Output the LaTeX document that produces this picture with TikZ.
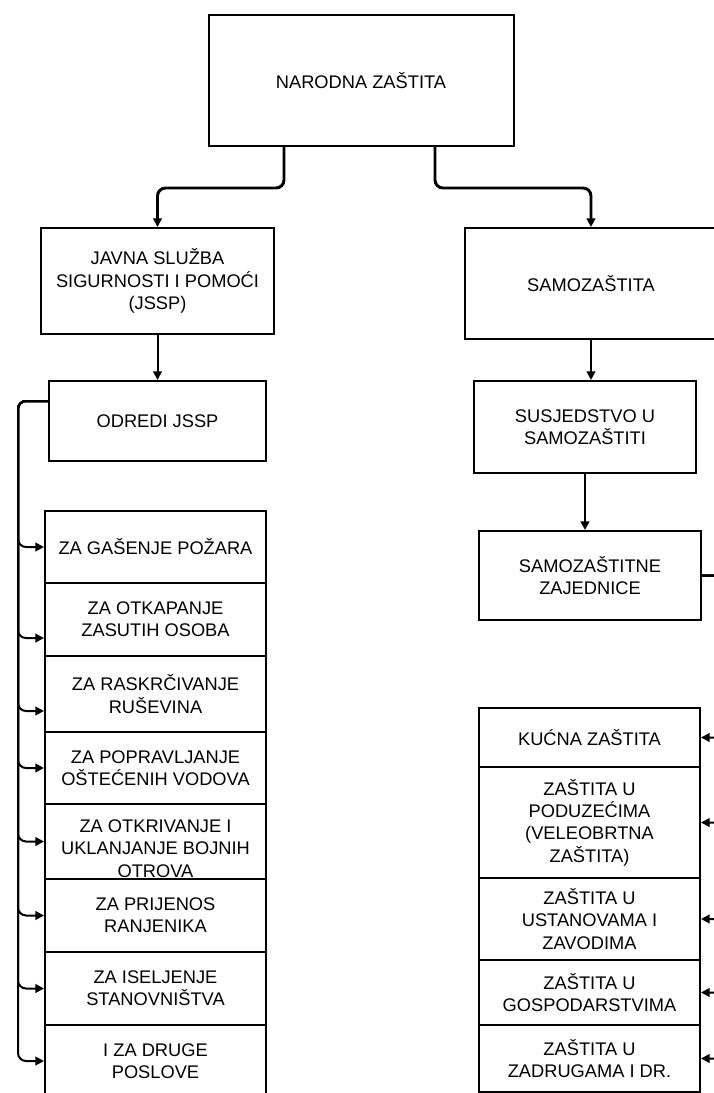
\documentclass[tikz,border=0pt]{standalone}
\usepackage{fontspec}
\setmainfont{Liberation Sans}
\usetikzlibrary{positioning, arrows.meta}

\begin{document}
\begin{tikzpicture}[x=0.75pt,y=-0.75pt,
		font=\fontsize{13.7pt}{16.7pt}\selectfont,
		box/.style={draw=black,line width=1.5pt,align=center,inner sep=0pt},
		item/.style={box,minimum width=165.75pt},
		link/.style={line width=1.5pt,rounded corners=6pt,-{Triangle[length=6.5pt,width=6.5pt]}}]
	\useasboundingbox (0,0) rectangle (714,1093);
	\clip (0,0) rectangle (714,1093);

		 	\node[box,minimum width=228.75pt,minimum height=98.25pt] (nz) at (361,80.5)
		    {NARODNA ZAŠTITA};
 			\node[box,minimum width=174.75pt,minimum height=79.5pt] (jssp) at (157.5,281)
    		{JAVNA SLUŽBA\\ SIGURNOSTI I POMOĆI\\ (JSSP)};
 			\node[box,minimum width=189pt,minimum height=83.25pt] (samo) at (591,283.5)
    		{SAMOZAŠTITA};
 			\node[box,minimum width=162.75pt,minimum height=60pt] (odredi) at (157.5,421)
    		{ODREDI JSSP};
 			\node[box,minimum width=166.5pt,minimum height=69pt] (susj) at (585,427)
    		{SUSJEDSTVO U\\ SAMOZAŠTITI};
 			\node[box,minimum width=166.5pt,minimum height=66.75pt] (zaj) at (590,575.5)
    		{SAMOZAŠTITNE\\ ZAJEDNICE};

 			\node[item,minimum height=54pt] (z1) at (155.5,547) {ZA GAŠENJE POŽARA};
 			\node[item,minimum height=54.75pt] (z2) at (155.5,619.5) {ZA OTKAPANJE\\ ZASUTIH OSOBA};
 			\node[item,minimum height=57pt] (z3) at (155.5,694) {ZA RASKRČIVANJE\\ RUŠEVINA};
 			\node[item,minimum height=54pt] (z4) at (155.5,768) {ZA POPRAVLJANJE\\ OŠTEĆENIH VODOVA};
 			\node[item,minimum height=56.25pt,
 				label={[align=center,yshift=-5.25pt]center:{ZA OTKRIVANJE I\\ UKLANJANJE BOJNIH\\ OTROVA}}] (z5) at (155.5,841.5) {};
 			\node[item,minimum height=54.75pt] (z6) at (155.5,915.5) {ZA PRIJENOS\\ RANJENIKA};
 			\node[item,minimum height=54.75pt] (z7) at (155.5,988.5) {ZA ISELJENJE\\ STANOVNIŠTVA};
 			\node[item,minimum height=54pt] (z8) at (155.5,1061) {I ZA DRUGE\\ POSLOVE};

 			\node[item,minimum height=44.25pt] (k1) at (589.5,737.5) {KUĆNA ZAŠTITA};
 			\node[item,minimum height=83.25pt] (k2) at (589.5,822.5) {ZAŠTITA U\\ PODUZEĆIMA\\ (VELEOBRTNA\\ ZAŠTITA)};
 			\node[item,minimum height=61.5pt] (k3) at (589.5,919) {ZAŠTITA U\\ USTANOVAMA I\\ ZAVODIMA};
 			\node[item,minimum height=48.75pt] (k4) at (589.5,992.5) {ZAŠTITA U\\ GOSPODARSTVIMA};
 			\node[item,minimum height=50.25pt] (k5) at (589.5,1058.5) {ZAŠTITA U\\ ZADRUGAMA I DR.};

 			\coordinate (lb) at (18,401);
 			\coordinate (rb) at (735,575.5);

	        \draw[link,line width=2.2pt] (nz.south) ++(-77,0) -- ++(0,41) -| (jssp.north);
	        \draw[link,line width=2.2pt] (nz.south) ++(74,0) -- ++(0,41) -| (samo.north);
	        \draw[link] (jssp.south) -- (odredi.north);
	        \draw[link] (samo.south) -- (samo.south |- susj.north);
	        \draw[link] (susj.south) -- (susj.south |- zaj.north);

	        \draw[link] ([yshift=15pt]odredi.west) -- (lb) |- (z1.west);
	        \draw[link] ([yshift=15pt]odredi.west) -- (lb) |- ([yshift=-13.9pt]z2.west);
	        \draw[link] ([yshift=15pt]odredi.west) -- (lb) |- ([yshift=-12.75pt]z3.west);
	        \foreach \i in {4,...,8}
	        	\draw[link] ([yshift=15pt]odredi.west) -- (lb) |- (z\i.west);

	        \foreach \i in {1,...,5}
	        	\draw[link] (zaj.east) -- (rb) |- (k\i.east);
		\end{tikzpicture}
\end{document}
